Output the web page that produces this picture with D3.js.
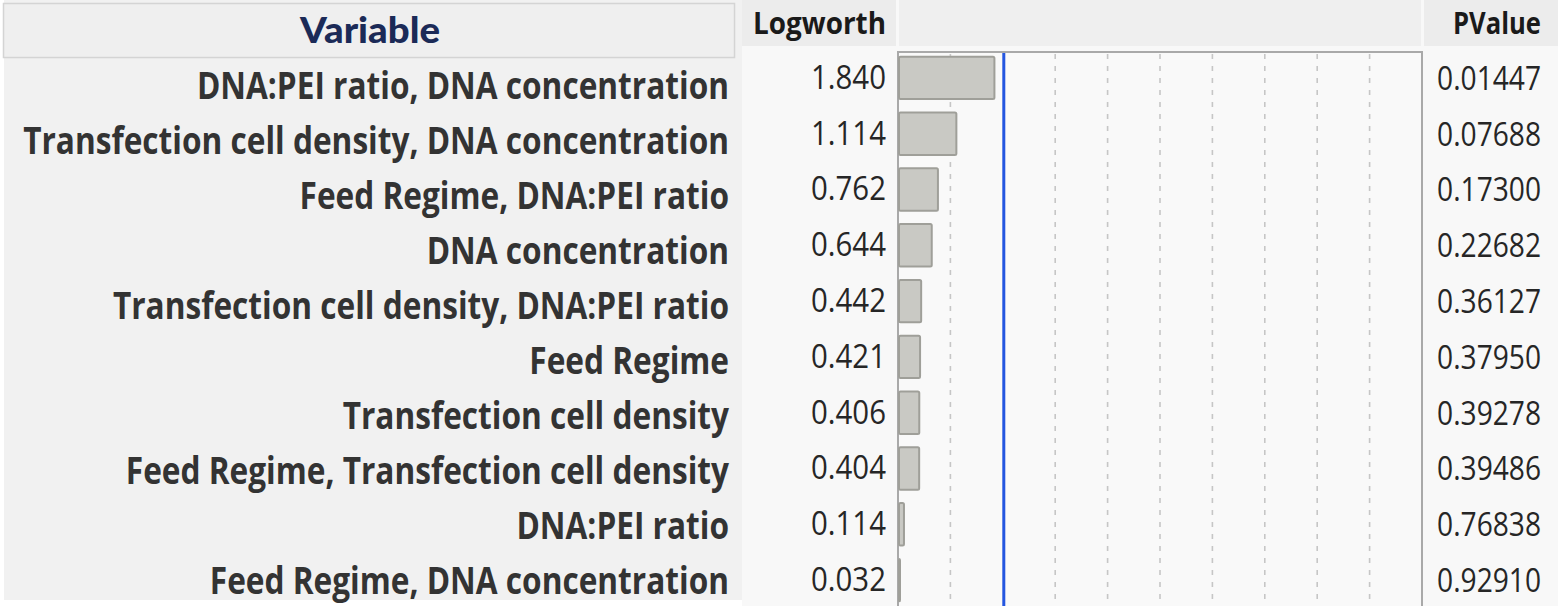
<!DOCTYPE html>
<html><head><meta charset="utf-8">
<script src="https://cdn.jsdelivr.net/npm/d3@7"></script>
<style>
html,body{margin:0;padding:0;background:#ffffff;}
svg{display:block;}
</style></head>
<body>
<svg id="chart" width="1558" height="606"></svg>
<script>
const variables = [
  "DNA:PEI ratio, DNA concentration",
  "Transfection cell density, DNA concentration",
  "Feed Regime, DNA:PEI ratio",
  "DNA concentration",
  "Transfection cell density, DNA:PEI ratio",
  "Feed Regime",
  "Transfection cell density",
  "Feed Regime, Transfection cell density",
  "DNA:PEI ratio",
  "Feed Regime, DNA concentration"
];
const logworth = [1.840, 1.114, 0.762, 0.644, 0.442, 0.421, 0.406, 0.404, 0.114, 0.032];
const pvalues = ["0.01447", "0.07688", "0.17300", "0.22682", "0.36127", "0.37950", "0.39278", "0.39486", "0.76838", "0.92910"];
const gridTicks = [1, 3, 4, 5, 6, 7, 8, 9];
const refLine = [2];   // logworth 2 == p 0.01
const axisDomain = [0, 10];
const headers = {variable: "Variable", logworth: "Logworth", pvalue: "PValue"};

const svg = d3.select("#chart");

function squeeze(sel, targetW, ax, ay){
  const w = sel.node().getComputedTextLength();
  const sx = targetW / w;
  sel.attr("x",0).attr("y",0).attr("transform",`translate(${ax},${ay}) scale(${sx},1)`);
}

// ---------- left panel ----------
svg.append("rect").attr("x",4).attr("y",0).attr("width",738).attr("height",600).attr("fill","#f1f1f1");
svg.append("rect").attr("x",3.5).attr("y",3.5).attr("width",731).attr("height",54)
  .attr("fill","#efefef").attr("stroke","#d4d4d4").attr("stroke-width",1.5);
const hdrVar = svg.append("text").attr("dy","0.36em")
  .attr("text-anchor","middle").attr("font-family","Lato").attr("font-weight",900)
  .attr("font-size",36).attr("fill","#1b2a57").text(headers.variable);
squeeze(hdrVar, 140, 370, 30);

const yLeft = d3.scalePoint().domain(variables).range([86, 581]);
const labG = svg.append("g");
const labs = labG.selectAll("g").data(variables).join("g")
  .attr("transform", d => `translate(729,${yLeft(d)})`);
labs.append("text").attr("text-anchor","end").attr("dy","0.36em")
  .attr("font-family","Open Sans").attr("font-weight",700).attr("font-size",37)
  .attr("fill","#333333").text(d => d);

// fit horizontal scale of label text
(function(){
  let maxW = 0;
  labs.selectAll("text").each(function(){ maxW = Math.max(maxW, this.getComputedTextLength()); });
  const sx = 706 / maxW;
  labs.attr("transform", d => `translate(729,${yLeft(d)}) scale(${sx},1)`);
})();

// ---------- right panel ----------
svg.append("rect").attr("x",742).attr("y",0).attr("width",816).attr("height",606).attr("fill","#f8f8f8");
// header cells
svg.append("rect").attr("x",742).attr("y",0).attr("width",154).attr("height",46).attr("fill","#ececec");
svg.append("rect").attr("x",899).attr("y",0).attr("width",522).attr("height",46).attr("fill","#efefef");
svg.append("rect").attr("x",1424).attr("y",0).attr("width",134).attr("height",46).attr("fill","#ececec");

const x = d3.scaleLinear().domain(axisDomain).range([898, 1422]);
const y = d3.scaleBand().domain(variables).range([50, 608]).paddingInner(0.24).paddingOuter(0.12);

// plot box
svg.append("rect").attr("x",x(0)).attr("y",52).attr("width",x(10)-x(0)).attr("height",560)
  .attr("fill","#f9f9f9").attr("stroke","#a9a9a9").attr("stroke-width",2);

// grid
svg.append("g").selectAll("line").data(gridTicks).join("line")
  .attr("x1",d=>x(d)).attr("x2",d=>x(d)).attr("y1",54).attr("y2",606)
  .attr("stroke","#c6c6c6").attr("stroke-width",1.6).attr("stroke-dasharray","5,7");
svg.append("g").selectAll("line").data(refLine).join("line")
  .attr("x1",d=>x(d)+1).attr("x2",d=>x(d)+1).attr("y1",53).attr("y2",606)
  .attr("stroke","#2456e0").attr("stroke-width",3);

// bars
svg.append("g").selectAll("rect").data(variables).join("rect")
  .attr("x", x(0)+1)
  .attr("y", d => y(d))
  .attr("width", (d,i) => Math.max(1, x(logworth[i]) - x(0) - 1))
  .attr("height", y.bandwidth())
  .attr("rx", 1.5)
  .attr("fill","#c9c9c4").attr("stroke","#9f9f99").attr("stroke-width",2);

// headers
const hdrLog = svg.append("text").attr("dy","0.36em").attr("text-anchor","end")
  .attr("font-family","Open Sans").attr("font-weight",700).attr("font-size",31).attr("fill","#1a1a1a").text(headers.logworth);
const hdrP = svg.append("text").attr("dy","0.36em").attr("text-anchor","end")
  .attr("font-family","Open Sans").attr("font-weight",700).attr("font-size",31).attr("fill","#1a1a1a").text(headers.pvalue);
squeeze(hdrLog, 133, 886, 23);
squeeze(hdrP, 88, 1541, 23);

// logworth values
const lw = svg.append("g").selectAll("g").data(variables).join("g");
lw.append("text").attr("text-anchor","end").attr("dy","0.36em")
  .attr("font-family","Open Sans").attr("font-size",33).attr("fill","#262626")
  .text((d,i) => logworth[i].toFixed(3));
// p values
const pv = svg.append("g").selectAll("g").data(variables).join("g");
pv.append("text").attr("text-anchor","end").attr("dy","0.36em")
  .attr("font-family","Open Sans").attr("font-size",33).attr("fill","#262626")
  .text((d,i) => pvalues[i]);

(function(){
  const w = lw.select("text").node().getComputedTextLength();
  const sx = 75 / w;
  lw.attr("transform", d => `translate(886,${y(d)+y.bandwidth()/2 - 1}) scale(${sx},1)`);
  const w2 = pv.select("text").node().getComputedTextLength();
  const sx2 = 104 / w2;
  pv.attr("transform", d => `translate(1541,${y(d)+y.bandwidth()/2}) scale(${sx2},1)`);
})();
</script>
</body></html>
